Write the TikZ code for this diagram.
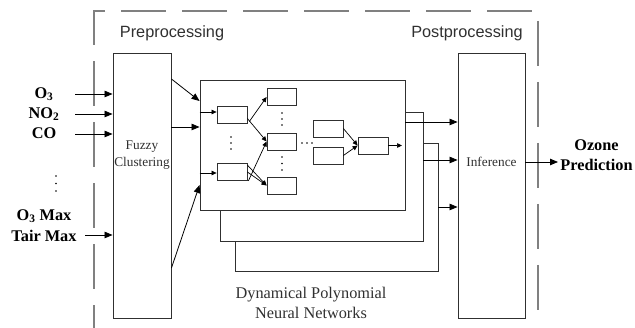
\documentclass[tikz,border=0pt]{standalone}
\usepackage{fontspec}
\setmainfont{Liberation Serif}
\setsansfont{Liberation Sans}
\usetikzlibrary{arrows.meta}
\definecolor{boxc}{HTML}{303030}
\definecolor{dashc}{HTML}{808080}
\begin{document}
\begin{tikzpicture}[x=1pt,y=-1pt,
  bigbox/.style={draw=boxc,line width=0.9pt,fill=white,inner sep=0pt},
  smallbox/.style={draw=boxc,line width=0.8pt,fill=white,inner sep=0pt,minimum width=30pt,minimum height=17pt},
  bigarrow/.style={draw=black,line width=0.8pt,-{Triangle[length=8pt,width=6.5pt]}},
  smallarrow/.style={draw=black,line width=0.7pt,-{Triangle[length=5pt,width=4.5pt]}},
  frame/.style={draw=dashc,line width=1.3pt,dash pattern=on 45pt off 16pt,dash phase=22pt},
  inlabel/.style={font=\fontsize{16.3}{19.5}\selectfont\bfseries,inner sep=0pt},
  boxtext/.style={font=\fontsize{13.3}{17}\selectfont,align=center,inner sep=0pt,text=boxc},
  headtext/.style={font=\sffamily\fontsize{16.3}{19.5}\selectfont,inner sep=0pt,text=boxc},
  nntext/.style={font=\fontsize{16.3}{20}\selectfont,align=center,inner sep=0pt,text=boxc},
  dot/.style={fill=black,circle,inner sep=0pt,minimum size=1.9pt}
]
\useasboundingbox (0,0) rectangle (635,328);

% dashed frame
\draw[frame] (94,328) -- (94,11) -- (538,11) -- (538,315);

% headings
\node[headtext] (pre) at (172,33) {Preprocessing};
\node[headtext] (post) at (467,33) {Postprocessing};

% main boxes
\node[bigbox,minimum width=58pt,minimum height=265pt] (fuzzy) at (142,185.5) {};
\node[boxtext] (fuzzytxt) at (142,155.5) {Fuzzy\\Clustering};
\node[bigbox,minimum width=67pt,minimum height=265pt] (inf) at (491.5,185.5) {};
\node[boxtext] (inftxt) at (491.5,162) {Inference};

% stacked network boxes
\node[bigbox,minimum width=203pt,minimum height=128pt] (nn3) at (336.5,207) {};
\node[bigbox,minimum width=203pt,minimum height=129pt] (nn2) at (321.5,176.5) {};
\node[bigbox,minimum width=205pt,minimum height=130pt] (nn1) at (302.5,145) {};
\node[nntext] (nntxt) at (311,303) {Dynamical Polynomial\\Neural Networks};

% input labels
\node[inlabel] (o3) at (44,94) {O\textsubscript{3}};
\node[inlabel] (no2) at (44,114) {NO\textsubscript{2}};
\node[inlabel] (co) at (44,133.5) {CO};
\node[inlabel] (o3max) at (44,216) {O\textsubscript{3} Max};
\node[inlabel] (tair) at (44,235.5) {Tair Max};
\node[dot] (ld1) at (56,176) {};
\node[dot] (ld2) at (56,183.5) {};
\node[dot] (ld3) at (56,191) {};

\coordinate (s1) at (75,94);
\coordinate (s2) at (75,114);
\coordinate (s3) at (75,134);
\coordinate (s4) at (85,235);
\draw[bigarrow] (s1) -- (fuzzy.west |- s1);
\draw[bigarrow] (s2) -- (fuzzy.west |- s2);
\draw[bigarrow] (s3) -- (fuzzy.west |- s3);
\draw[bigarrow] (s4) -- (fuzzy.west |- s4);

% fuzzy -> networks
\coordinate (f1) at (171,79);
\coordinate (f2) at (171,127);
\coordinate (f3) at (172,268);
\coordinate (n1) at (200,101);
\coordinate (n3) at (200,185);
\draw[bigarrow] (fuzzy.east |- f1) -- (nn1.west |- n1);
\draw[bigarrow] (fuzzy.east |- f2) -- (nn1.west |- f2);
\draw[bigarrow] (fuzzy.east |- f3) -- (nn1.west |- n3);

% networks -> inference
\coordinate (r1) at (0,122);
\coordinate (r2) at (0,160);
\coordinate (r3) at (0,207);
\draw[bigarrow] (nn1.east |- r1) -- (inf.west |- r1);
\draw[bigarrow] (nn2.east |- r2) -- (inf.west |- r2);
\draw[bigarrow] (nn3.east |- r3) -- (inf.west |- r3);

% output
\coordinate (outend) at (558,162);
\draw[bigarrow] (inf.east |- outend) -- (outend);
\node[inlabel,align=center] (ozone) at (596.5,155) {Ozone\\Prediction};

% inner network
\node[smallbox] (a1) at (232,114.5) {};
\node[smallbox] (a2) at (232,172) {};
\node[smallbox,minimum width=29pt] (b1) at (281.5,97) {};
\node[smallbox,minimum width=29pt] (b2) at (281.5,141.5) {};
\node[smallbox,minimum width=29pt] (b3) at (281.5,185.5) {};
\node[smallbox] (c1) at (328,128.5) {};
\node[smallbox] (c2) at (328,155.5) {};
\node[smallbox] (d) at (373,145.5) {};

\coordinate (i1) at (0,112);
\coordinate (i2) at (0,173);
\draw[smallarrow] (nn1.west |- i1) -- (a1.west |- i1);
\draw[smallarrow] (nn1.west |- i2) -- (a2.west |- i2);

\draw[smallarrow] ([yshift=-4pt]a1.east) -- (b2.west);
\draw[smallarrow] ([xshift=2pt,yshift=2pt]a1.south east) -- (b1.west);
\draw[smallarrow] ([yshift=-2pt]a2.north east) -- (b3.west);
\draw[smallarrow] (a2.east) -- (b3.west);
\draw[smallarrow] ([xshift=1pt]a2.south east) -- (b2.west);

\draw[smallarrow] (c1.east) -- (d.west);
\draw[smallarrow] (c2.east) -- (d.west);
\coordinate (dout) at (402,145.5);
\draw[smallarrow] (d.east) -- (dout);

% dots
\node[dot] at (231,137) {};
\node[dot] at (231,143) {};
\node[dot] at (231,149) {};
\node[dot] at (282,113) {};
\node[dot] at (282,119) {};
\node[dot] at (282,125) {};
\node[dot] at (282,157) {};
\node[dot] at (282,163.5) {};
\node[dot] at (282,170) {};
\node[dot] at (302,143) {};
\node[dot] at (307,143) {};
\node[dot] at (312,143) {};
\end{tikzpicture}
\end{document}
